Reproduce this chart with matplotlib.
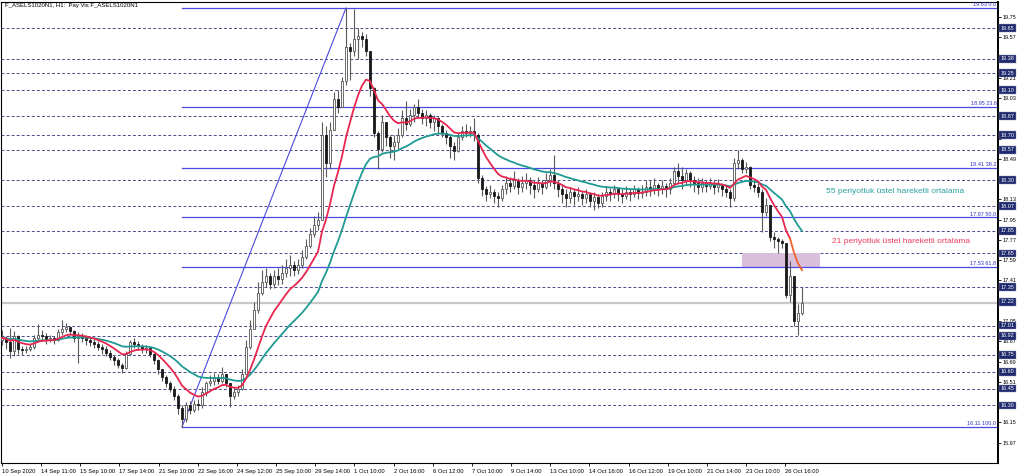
import numpy as np
import pandas as pd
import matplotlib
matplotlib.use("Agg")
import matplotlib.pyplot as plt
from matplotlib.transforms import blended_transform_factory
from matplotlib.patches import Rectangle

# ---------------- data ----------------
title = "F_ASELS1020N1, H1:  Pay Vis F_ASELS1020N1"

close = [
    16.90, 16.86, 16.78, 16.92, 16.80, 16.79, 16.80, 16.82, 16.90, 16.93,
    16.92, 16.88, 16.90, 16.88, 16.95, 16.98, 17.00, 16.96, 16.90, 16.92,
    16.90, 16.88, 16.86, 16.85, 16.82, 16.80, 16.77, 16.73, 16.70, 16.66,
    16.63, 16.76, 16.86, 16.85, 16.83, 16.80, 16.81, 16.76, 16.70, 16.62,
    16.55, 16.50, 16.45, 16.38, 16.28, 16.18, 16.30, 16.26, 16.31, 16.30,
    16.42, 16.50, 16.52, 16.55, 16.52, 16.58, 16.50, 16.38, 16.42, 16.45,
    16.58, 16.82, 16.98, 17.15, 17.30, 17.40, 17.45, 17.38, 17.45, 17.42,
    17.48, 17.52, 17.55, 17.50, 17.55, 17.62, 17.72, 17.82, 17.90, 17.95,
    18.70, 18.45, 18.75, 19.02, 18.95, 19.18, 19.48, 19.45, 19.55, 19.58,
    19.55, 19.45, 19.12, 18.72, 18.58, 18.82, 18.68, 18.60, 18.64, 18.70,
    18.85, 18.80, 18.88, 18.95, 18.90, 18.85, 18.88, 18.82, 18.85, 18.78,
    18.72, 18.68, 18.60, 18.56, 18.68, 18.74, 18.72, 18.74, 18.70, 18.32,
    18.22, 18.18, 18.20, 18.16, 18.14, 18.22, 18.28, 18.25, 18.30, 18.24,
    18.28, 18.30, 18.26, 18.22, 18.28, 18.24, 18.30, 18.35, 18.28, 18.22,
    18.18, 18.14, 18.20, 18.16, 18.18, 18.14, 18.18, 18.12, 18.15, 18.10,
    18.16, 18.20, 18.18, 18.22, 18.18, 18.16, 18.20, 18.18, 18.22, 18.19,
    18.20, 18.24, 18.22, 18.26, 18.22, 18.25, 18.22, 18.28, 18.38, 18.34,
    18.30, 18.36, 18.30, 18.28, 18.24, 18.28, 18.25, 18.28, 18.24, 18.27,
    18.22, 18.20, 18.14, 18.45, 18.48, 18.40, 18.42, 18.26, 18.24, 18.20,
    18.02, 18.08, 17.80, 17.78, 17.76, 17.74, 17.28, 17.45, 17.05, 17.12,
    17.21,
]
high = [
    16.97, 16.92, 16.99, 16.96, 16.93, 16.83, 16.83, 16.85, 16.93, 17.02,
    16.97, 16.94, 16.93, 16.92, 16.98, 17.06, 17.03, 17.01, 16.97, 16.95,
    16.94, 16.93, 16.90, 16.89, 16.87, 16.85, 16.83, 16.79, 16.75, 16.72,
    16.68, 16.78, 16.88, 16.90, 16.87, 16.85, 16.84, 16.82, 16.77, 16.71,
    16.62, 16.57, 16.52, 16.47, 16.40, 16.30, 16.33, 16.34, 16.35, 16.36,
    16.46, 16.52, 16.57, 16.59, 16.58, 16.64, 16.58, 16.50, 16.46, 16.48,
    16.62, 16.88, 17.06, 17.22, 17.40, 17.50, 17.52, 17.48, 17.50, 17.52,
    17.55, 17.60, 17.64, 17.58, 17.60, 17.68, 17.78, 17.88, 17.98, 18.02,
    18.82, 18.78, 18.82, 19.08, 19.10, 19.22, 19.83, 19.52, 19.82, 19.65,
    19.62, 19.60, 19.45, 19.13, 18.74, 18.88, 18.80, 18.70, 18.70, 18.76,
    18.92, 19.00, 18.93, 18.98, 19.02, 18.93, 18.92, 18.90, 18.88, 18.86,
    18.80, 18.75, 18.70, 18.64, 18.72, 18.78, 18.80, 18.78, 18.85, 18.72,
    18.35, 18.25, 18.26, 18.22, 18.20, 18.26, 18.34, 18.33, 18.38, 18.32,
    18.34, 18.36, 18.33, 18.30, 18.33, 18.30, 18.36, 18.40, 18.52, 18.30,
    18.26, 18.22, 18.24, 18.22, 18.24, 18.20, 18.22, 18.20, 18.20, 18.18,
    18.20, 18.25, 18.23, 18.26, 18.24, 18.22, 18.25, 18.22, 18.26, 18.24,
    18.26, 18.30, 18.30, 18.32, 18.28, 18.30, 18.28, 18.32, 18.42, 18.45,
    18.42, 18.40, 18.38, 18.34, 18.32, 18.32, 18.30, 18.32, 18.30, 18.31,
    18.28, 18.26, 18.22, 18.50, 18.57, 18.50, 18.46, 18.43, 18.30, 18.28,
    18.22, 18.14, 18.05, 17.84, 17.80, 17.78, 17.74, 17.58, 17.40, 17.20,
    17.35,
]
low = [
    16.84, 16.80, 16.72, 16.74, 16.76, 16.75, 16.77, 16.78, 16.80, 16.88,
    16.87, 16.85, 16.86, 16.85, 16.87, 16.93, 16.95, 16.93, 16.86, 16.68,
    16.86, 16.84, 16.83, 16.81, 16.79, 16.76, 16.74, 16.70, 16.66, 16.63,
    16.59, 16.62, 16.75, 16.81, 16.79, 16.77, 16.77, 16.73, 16.67, 16.58,
    16.52, 16.46, 16.42, 16.35, 16.22, 16.11, 16.15, 16.22, 16.24, 16.26,
    16.28, 16.38, 16.47, 16.48, 16.49, 16.50, 16.46, 16.29, 16.36, 16.38,
    16.44, 16.58, 16.80, 16.98, 17.12, 17.28, 17.35, 17.33, 17.34, 17.37,
    17.38, 17.44, 17.45, 17.45, 17.47, 17.52, 17.60, 17.70, 17.80, 17.86,
    18.00, 18.33, 18.40, 18.75, 18.90, 18.95, 19.15, 19.19, 19.40, 19.38,
    19.48, 19.40, 19.05, 18.68, 18.40, 18.55, 18.60, 18.50, 18.48, 18.58,
    18.68, 18.75, 18.78, 18.82, 18.85, 18.80, 18.78, 18.76, 18.74, 18.72,
    18.68, 18.62, 18.50, 18.48, 18.55, 18.66, 18.68, 18.68, 18.65, 18.28,
    18.16, 18.12, 18.14, 18.10, 18.06, 18.12, 18.18, 18.20, 18.22, 18.18,
    18.20, 18.22, 18.18, 18.14, 18.20, 18.18, 18.22, 18.25, 18.22, 18.15,
    18.10, 18.06, 18.10, 18.08, 18.12, 18.08, 18.10, 18.06, 18.04, 18.05,
    18.06, 18.12, 18.12, 18.14, 18.12, 18.10, 18.13, 18.12, 18.15, 18.13,
    18.14, 18.16, 18.16, 18.18, 18.16, 18.18, 18.15, 18.18, 18.25, 18.28,
    18.22, 18.26, 18.24, 18.20, 18.18, 18.20, 18.20, 18.22, 18.18, 18.20,
    18.16, 18.15, 18.06, 18.12, 18.40, 18.36, 18.36, 18.22, 18.20, 18.15,
    17.84, 17.98, 17.76, 17.70, 17.65, 17.70, 17.25, 17.22, 17.01, 16.93,
    17.10,
]
first_open = 16.88

level_lines = [19.65, 19.38, 19.25, 19.10, 18.87, 18.70, 18.57, 18.30, 18.07, 17.85,
               17.65, 17.35, 17.22, 17.01, 16.92, 16.75, 16.60, 16.45, 16.30]
axis_ticks = [19.75, 19.57, 19.39, 19.21, 19.03, 18.85, 18.67, 18.49, 18.31, 18.13,
              17.95, 17.77, 17.59, 17.41, 17.23, 17.05, 16.87, 16.69, 16.51, 16.33,
              16.15, 15.97]
fib_ratios = [0.0, 23.6, 38.2, 50.0, 61.8, 100.0]
fib_levels = [19.83, 18.95, 18.41, 17.97, 17.53, 16.11]
bid_price = 17.21
zone_bars = [185, 204.5]
zone_prices = [17.53, 17.65]
time_labels = ["10 Sep 2020", "14 Sep 11:00", "15 Sep 10:00", "17 Sep 14:00", "21 Sep 10:00",
               "22 Sep 16:00", "24 Sep 12:00", "25 Sep 10:00", "29 Sep 14:00", "1 Oct 10:00",
               "2 Oct 16:00", "6 Oct 12:00", "7 Oct 10:00", "9 Oct 14:00", "13 Oct 10:00",
               "14 Oct 16:00", "16 Oct 12:00", "19 Oct 10:00", "21 Oct 14:00", "23 Oct 10:00",
               "26 Oct 16:00"]
ema_fast_label = "21 periyotluk üstel hareketli ortalama"
ema_slow_label = "55 periyotluk üstel hareketli ortalama"

# ---------------- figure ----------------
plt.rcParams['font.family'] = ['Liberation Sans', 'DejaVu Sans']
W, H = 1024, 476
fig = plt.figure(figsize=(W / 100, H / 100), dpi=100)
fig.patch.set_facecolor('white')
ax = fig.add_axes([1 / W, 13 / H, 997 / W, 461 / H])

close_a = np.array(close)
high_a = np.array(high)
low_a = np.array(low)
open_a = np.concatenate([[first_open], close_a[:-1]])
idx = np.arange(len(close_a))

ax.set_xlim(-0.25, -0.25 + 997 / 4)
ax.set_ylim(15.789, 19.883)

# level lines
for lv in level_lines:
    ax.axhline(lv, color='#4b4b8c', lw=0.7, ls=(0, (3, 2.2)), zorder=1)
ax.axhline(bid_price, color='#c8c8c8', lw=1.6, zorder=1)

# zone rectangle
ax.add_patch(Rectangle((zone_bars[0], zone_prices[0]), zone_bars[1] - zone_bars[0],
                       zone_prices[1] - zone_prices[0], facecolor='#d9bfdc',
                       edgecolor='none', zorder=1.5))

# fibonacci
i_lo = int(np.argmin(low_a))
i_hi = int(np.argmax(high_a))
xmax = ax.get_xlim()[1]
for r, lv in zip(fib_ratios, fib_levels):
    ax.plot([i_lo, xmax], [lv, lv], color='#4a4ae0', lw=0.9, zorder=2)
    ax.text(xmax - 0.4, lv + 0.008, f"{lv:.2f} {r:.1f}", ha='right', va='bottom',
            fontsize=4, color='#3030c8', zorder=6)
ax.plot([i_lo, i_hi], [low_a[i_lo], high_a[i_hi]], color='#4a4ae0', lw=0.8, zorder=2)

# candles
up = close_a >= open_a
ax.vlines(idx, low_a, high_a, color='#5a5a5a', lw=0.8, zorder=3)
body_lo = np.minimum(open_a, close_a)
body_h = np.maximum(np.abs(close_a - open_a), 0.006)
ax.bar(idx[up], body_h[up], bottom=body_lo[up], width=0.6, color='white',
       edgecolor='#555555', linewidth=0.6, zorder=4)
ax.bar(idx[~up], body_h[~up], bottom=body_lo[~up], width=0.6, color='#1a1a1a',
       edgecolor='#1a1a1a', linewidth=0.6, zorder=4)

# EMAs (2 hourly bars per drawn bar)
s = pd.Series(close_a)
ema_fast = s.ewm(span=10.5, adjust=False).mean().values
ema_slow = s.ewm(span=27.5, adjust=False).mean().values
ax.plot(idx, ema_slow, color='#1f9a92', lw=1.3, zorder=5)
ax.plot(idx[:-3], ema_fast[:-3], color='#e8264f', lw=1.3, zorder=5)
ax.plot(idx[-4:], ema_fast[-4:], color='#f0602a', lw=1.3, zorder=5)

ax.text(206, 18.20, ema_slow_label, color='#2a9f9f', fontsize=6, va='center', ha='left', zorder=6)
ax.text(207.5, 17.76, ema_fast_label, color='#ea3a5e', fontsize=6, va='center', ha='left', zorder=6)

# title
ax.text(0.004, 0.997, title, transform=ax.transAxes, fontsize=4.3, va='top', ha='left', zorder=7)

# axes styling
for sp in ax.spines.values():
    sp.set_color('black')
    sp.set_linewidth(0.8)
ax.spines['right'].set_linewidth(1.4)
ax.yaxis.tick_right()
ax.set_yticks(axis_ticks)
# tick labels fully covered by a highlighted level label are not shown
ax.set_yticklabels(["" if min(abs(t - lv) for lv in level_lines) < 0.035 else f"{t:.2f}"
                    for t in axis_ticks])
ax.tick_params(axis='y', labelsize=4, length=2.5, width=0.6, pad=1, colors='black')

tick_step = 9.79
ax.set_xticks(np.arange(len(time_labels)) * tick_step)
ax.set_xticklabels(time_labels)
ax.tick_params(axis='x', labelsize=4.2, length=2.5, width=0.6, pad=1.5)
for lab in ax.get_xticklabels():
    lab.set_ha('left')

# highlighted level labels on axis
trans = blended_transform_factory(ax.transAxes, ax.transData)
for lv in level_lines:
    ax.text(1.0025, lv, f"{lv:.2f}", transform=trans, ha='left', va='center', fontsize=4,
            color='white', clip_on=False, zorder=10,
            bbox=dict(boxstyle='square,pad=0.25', fc='#1f2a6e', ec='#9090b0', lw=0.3))

fig.savefig('out.png', dpi=100, facecolor='white')
